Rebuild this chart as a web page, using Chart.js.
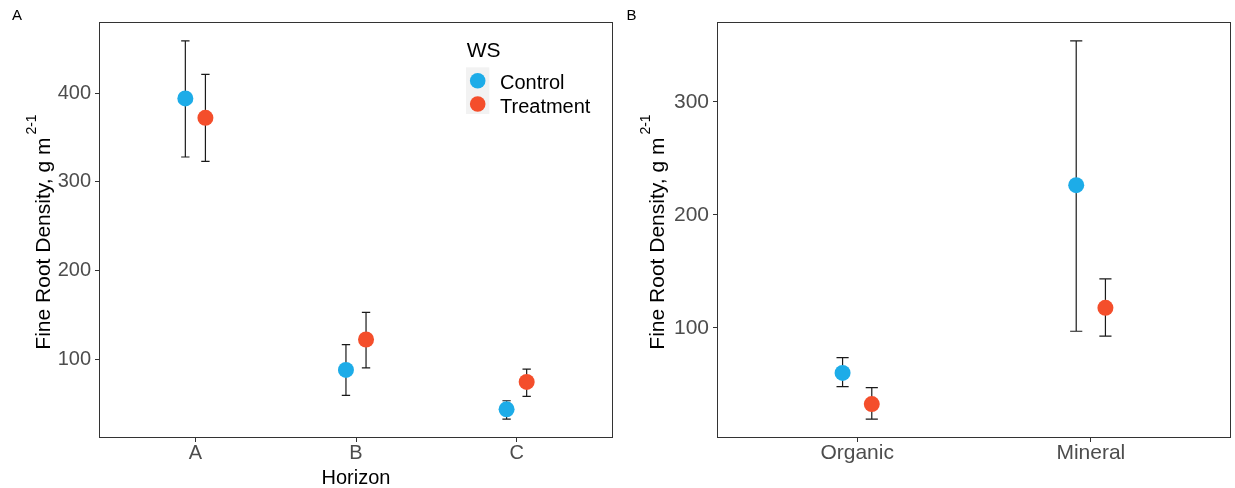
<!DOCTYPE html>
<html>
<head>
<meta charset="utf-8">
<script src="https://cdn.jsdelivr.net/npm/chart.js@4.4.0/dist/chart.umd.min.js"></script>
<style>
  body { margin: 0; background: #fff; }
  #wrap { position: relative; width: 1235px; height: 488px; }
  canvas { position: absolute; top: 0; }
</style>
</head>
<body>
<div id="wrap">
  <canvas id="horizonChart" width="615" height="488" style="left:0"></canvas>
  <canvas id="layerChart" width="615" height="488" style="left:620px"></canvas>
</div>
<script>
// Panel A: fine root density by soil horizon
const horizons = ['A', 'B', 'C'];
const horizonControl = [394.3, 87.9, 43.4];
const horizonControlLo = [328.2, 59.2, 32.4];
const horizonControlHi = [459.2, 116.5, 53.1];
const horizonTreat = [372.4, 122.2, 74.3];
const horizonTreatLo = [323.3, 90.1, 58.1];
const horizonTreatHi = [421.5, 152.8, 88.7];
const horizonTicks = [100, 200, 300, 400];

// Panel B: organic vs mineral layer
const layers = ['Organic', 'Mineral'];
const layerControl = [60.1, 226.2];
const layerControlLo = [48.0, 97.0];
const layerControlHi = [73.7, 353.8];
const layerTreat = [32.6, 117.7];
const layerTreatLo = [19.3, 92.6];
const layerTreatHi = [47.1, 143.4];
const layerTicks = [100, 200, 300];

const groups = ['Control', 'Treatment'];
const groupColors = ['#1DACE8', '#F44E2B'];

const FONT = "'Liberation Sans', Arial, sans-serif";
const DODGE = 0.0625;

// builds {x, y, lo, hi} points for one group, shifted sideways like position_dodge
function points(means, lo, hi, shift) {
  return means.map((m, i) => ({ x: i + 1 + shift, y: m, lo: lo[i], hi: hi[i] }));
}

// y range padded by 5% of the error bar span
function yRange(los, his) {
  const lo = Math.min(...los), hi = Math.max(...his);
  const pad = (hi - lo) * 0.05;
  return [lo - pad, hi + pad];
}

const errorBars = {
  id: 'errorBars',
  beforeDatasetsDraw(chart, args, opts) {
    const { ctx, scales: { x, y } } = chart;
    ctx.save();
    ctx.strokeStyle = '#1a1a1a';
    ctx.lineWidth = 1.2;
    chart.data.datasets.forEach(ds => {
      ds.data.forEach(p => {
        const px = x.getPixelForValue(p.x);
        const x0 = x.getPixelForValue(p.x - opts.capHalf);
        const x1 = x.getPixelForValue(p.x + opts.capHalf);
        const yl = y.getPixelForValue(p.lo);
        const yh = y.getPixelForValue(p.hi);
        ctx.beginPath();
        ctx.moveTo(px, yl); ctx.lineTo(px, yh);
        ctx.moveTo(x0, yl); ctx.lineTo(x1, yl);
        ctx.moveTo(x0, yh); ctx.lineTo(x1, yh);
        ctx.stroke();
      });
    });
    ctx.restore();
  }
};

const decorations = {
  id: 'decorations',
  afterDraw(chart, args, o) {
    const { ctx, chartArea: a } = chart;
    ctx.save();
    // panel border
    ctx.strokeStyle = '#333';
    ctx.lineWidth = 1;
    ctx.strokeRect(a.left + 0.5, a.top + 0.5, a.right - a.left - 1, a.bottom - a.top - 1);

    // panel tag
    ctx.fillStyle = '#000';
    ctx.font = `15px ${FONT}`;
    ctx.textAlign = 'left';
    ctx.textBaseline = 'alphabetic';
    ctx.fillText(o.tag, o.tagX, 20);

    // y title with superscript units
    const main = 'Fine Root Density, g m';
    const sup = '2-1';
    ctx.font = `21px ${FONT}`;
    const w1 = ctx.measureText(main).width;
    ctx.font = `14px ${FONT}`;
    const w2 = ctx.measureText(sup).width;
    ctx.save();
    ctx.translate(o.titleX, (a.top + a.bottom) / 2);
    ctx.rotate(-Math.PI / 2);
    const start = -(w1 + 3 + w2) / 2 - 2;
    ctx.font = `21px ${FONT}`;
    ctx.fillText(main, start, 0);
    ctx.font = `14px ${FONT}`;
    ctx.fillText(sup, start + w1 + 3, -13.6);
    ctx.restore();

    // legend inside the plot
    if (o.legend) {
      const L = o.legend;
      ctx.font = `21px ${FONT}`;
      ctx.fillText('WS', L.x + 0.7, L.y - 10.6);
      ctx.fillStyle = '#F2F2F2';
      ctx.fillRect(L.x, L.y, 23.3, 46.7);
      chart.data.datasets.forEach((ds, i) => {
        const cy = L.y + 13.4 + i * 23.3;
        ctx.fillStyle = ds.backgroundColor;
        ctx.beginPath();
        ctx.arc(L.x + 11.7, cy, 7.8, 0, Math.PI * 2);
        ctx.fill();
        ctx.fillStyle = '#000';
        ctx.font = `20px ${FONT}`;
        ctx.fillText(ds.label, L.x + 34, cy + 8.5);
      });
    }
    ctx.restore();
  }
};

function makePanel(id, cats, series, ticks, opts) {
  const allLo = series.flatMap(s => s.lo);
  const allHi = series.flatMap(s => s.hi);
  const [ymin, ymax] = yRange(allLo, allHi);
  const shifts = [-DODGE, DODGE];

  return new Chart(document.getElementById(id), {
    type: 'scatter',
    data: {
      datasets: series.map((s, i) => ({
        label: groups[i],
        data: points(s.mean, s.lo, s.hi, shifts[i]),
        backgroundColor: groupColors[i],
        borderWidth: 0,
        pointRadius: 8,
        pointHoverRadius: 8
      }))
    },
    options: {
      responsive: false,
      animation: false,
      layout: {
        autoPadding: false,
        padding: { top: 22, right: opts.padRight, left: 0, bottom: 0 }
      },
      plugins: {
        legend: { display: false },
        tooltip: { enabled: false },
        errorBars: { capHalf: 0.026 },
        decorations: { tag: opts.tag, tagX: opts.tagX, titleX: opts.titleX, legend: opts.legend }
      },
      scales: {
        x: {
          type: 'linear',
          min: 0.4,
          max: cats.length + 0.6,
          afterBuildTicks: s => { s.ticks = cats.map((c, i) => ({ value: i + 1 })); },
          afterFit: s => { s.height = 50; s.paddingLeft = 0; s.paddingRight = 0; },
          ticks: {
            callback: (v, i) => cats[i],
            color: '#4D4D4D',
            font: { family: FONT, size: opts.tickSize },
            padding: -1,
            maxRotation: 0,
            autoSkip: false
          },
          grid: { drawOnChartArea: false, tickLength: 4, color: '#333' },
          border: { display: false },
          title: {
            display: !!opts.xTitle,
            text: opts.xTitle || '',
            color: '#000',
            font: { family: FONT, size: 20, lineHeight: 1 },
            padding: { top: 0, bottom: 0 }
          }
        },
        y: {
          min: ymin,
          max: ymax,
          afterBuildTicks: s => { s.ticks = ticks.map(v => ({ value: v })); },
          afterFit: s => { s.width = opts.yWidth; s.paddingTop = 0; s.paddingBottom = 0; },
          ticks: {
            color: '#4D4D4D',
            font: { family: FONT, size: opts.tickSize },
            padding: 4
          },
          grid: { drawOnChartArea: false, tickLength: 4, color: '#333' },
          border: { display: false }
        }
      }
    },
    plugins: [errorBars, decorations]
  });
}

makePanel('horizonChart', horizons, [
  { mean: horizonControl, lo: horizonControlLo, hi: horizonControlHi },
  { mean: horizonTreat, lo: horizonTreatLo, hi: horizonTreatHi }
], horizonTicks, {
  tag: 'A', tagX: 12, titleX: 49.5, yWidth: 99, padRight: 2, tickSize: 20,
  xTitle: 'Horizon', legend: { x: 466, y: 67.3 }
});

makePanel('layerChart', layers, [
  { mean: layerControl, lo: layerControlLo, hi: layerControlHi },
  { mean: layerTreat, lo: layerTreatLo, hi: layerTreatHi }
], layerTicks, {
  tag: 'B', tagX: 6.5, titleX: 43.5, yWidth: 97, padRight: 4, tickSize: 21
});
</script>
</body>
</html>
